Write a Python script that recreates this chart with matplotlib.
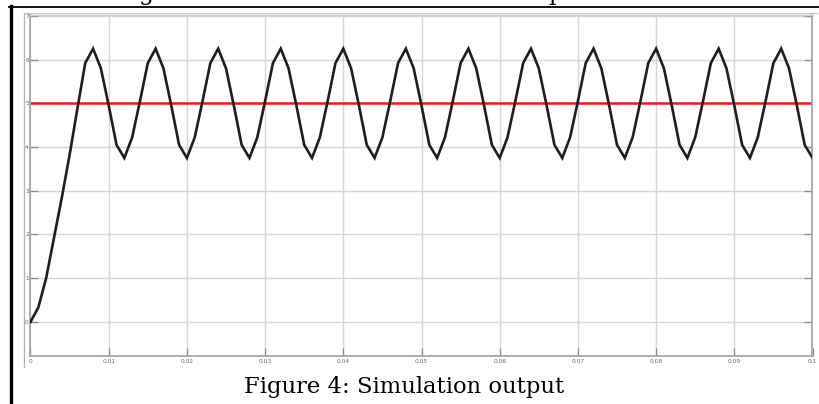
import matplotlib
matplotlib.use("Agg")
import matplotlib.pyplot as plt
from matplotlib.lines import Line2D
import numpy as np

# ---- data ----
sample_step = 0.001  # s
signal = [
    0.00, 0.33, 1.00, 1.92, 2.84, 3.82, 4.88, 5.92,
    6.25, 5.80, 4.95, 4.05, 3.75, 4.22, 5.05, 5.92,
    6.25, 5.80, 4.95, 4.05, 3.75, 4.22, 5.05, 5.92,
    6.25, 5.80, 4.95, 4.05, 3.75, 4.22, 5.05, 5.92,
    6.25, 5.80, 4.95, 4.05, 3.75, 4.22, 5.05, 5.92,
    6.25, 5.80, 4.95, 4.05, 3.75, 4.22, 5.05, 5.92,
    6.25, 5.80, 4.95, 4.05, 3.75, 4.22, 5.05, 5.92,
    6.25, 5.80, 4.95, 4.05, 3.75, 4.22, 5.05, 5.92,
    6.25, 5.80, 4.95, 4.05, 3.75, 4.22, 5.05, 5.92,
    6.25, 5.80, 4.95, 4.05, 3.75, 4.22, 5.05, 5.92,
    6.25, 5.80, 4.95, 4.05, 3.75, 4.22, 5.05, 5.92,
    6.25, 5.80, 4.95, 4.05, 3.75, 4.22, 5.05, 5.92,
    6.25, 5.80, 4.95, 4.05, 3.75,
]
reference_level = 5.0
x_ticks = [0, 0.01, 0.02, 0.03, 0.04, 0.05, 0.06, 0.07, 0.08, 0.09, 0.1]
x_tick_labels = ["0", "0.01", "0.02", "0.03", "0.04", "0.05", "0.06", "0.07", "0.08", "0.09", "0.1"]
y_ticks = [0, 1, 2, 3, 4, 5, 6, 7]
y_tick_labels = ["0", "1", "2", "3", "4", "5", "6", "7"]
caption = "Figure 4: Simulation output"

t = np.arange(len(signal)) * sample_step

W, H = 820, 404
fig = plt.figure(figsize=(W / 100, H / 100), dpi=100)
fig.patch.set_facecolor("white")

def px(x, y):
    return x / W, 1 - y / H

# axes placement (pixels)
L, R, T, B = 30.5, 812.5, 15.0, 356.0
ax = fig.add_axes([L / W, 1 - B / H, (R - L) / W, (B - T) / H])
ax.set_xlim(0, 0.1)
ax.set_ylim(-0.78, 7.02)

ax.plot(t, signal, color="#1e1e1e", lw=1.9, zorder=3, solid_joinstyle="miter")
ax.axhline(reference_level, color="#f01818", lw=1.8, zorder=2)

ax.set_xticks(x_ticks)
ax.set_xticklabels(x_tick_labels)
ax.set_yticks(y_ticks)
ax.set_yticklabels(y_tick_labels)
ax.grid(True, color="#d6d6d6", lw=1.0, zorder=0)
ax.set_axisbelow(True)
ax.tick_params(axis="both", direction="in", length=5.5, width=0.9, color="#8a8a8a",
               labelsize=4.2, labelcolor="#666666", right=True)
ax.tick_params(axis="x", pad=2.0)
ax.tick_params(axis="y", pad=1.2)
for s in ax.spines.values():
    s.set_color("#a6a6a6")
    s.set_linewidth(1.3)
ax.spines["top"].set_color("#cccccc")
ax.spines["top"].set_linewidth(1.0)

# document frame lines
fig.add_artist(Line2D([px(9, 0)[0], px(818, 0)[0]], [px(0, 6.7)[1]] * 2,
                      color="black", lw=1.3))
fig.add_artist(Line2D([px(10.7, 0)[0]] * 2, [px(0, 6)[1], px(0, 404)[1]],
                      color="black", lw=2.4))
# scope outer frame
fig.add_artist(Line2D([px(24.3, 0)[0]] * 2, [px(0, 13)[1], px(0, 367)[1]],
                      color="#b4b4b4", lw=0.9))
fig.add_artist(Line2D([px(24.3, 0)[0], px(817, 0)[0]], [px(0, 13)[1]] * 2,
                      color="#c4c4c4", lw=0.9))

# clipped text from the line above (only descenders visible)
fig.text(*px(146, 0.0), "g", family="DejaVu Serif", fontsize=17, ha="center", va="baseline")
fig.text(*px(556, 0.0), "p", family="DejaVu Serif", fontsize=17, ha="center", va="baseline")

# caption
fig.text(*px(404, 393), caption, family="DejaVu Serif", fontsize=16.3,
         ha="center", va="baseline", color="black")

fig.savefig("out.png", dpi=100)
